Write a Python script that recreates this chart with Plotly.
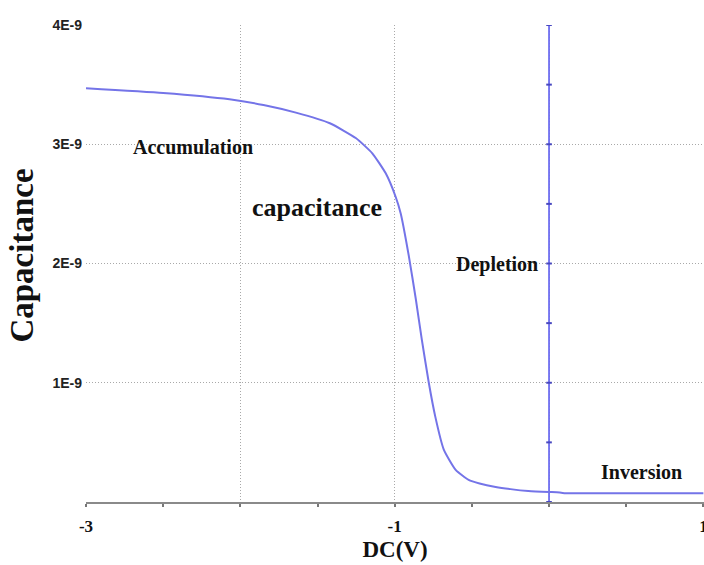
import plotly.graph_objects as go

# C-V curve data (bias in volts, capacitance in farads)
bias_v = [-3.0, -2.5, -2.07, -1.85, -1.64, -1.42, -1.25, -1.145, -1.058, -0.994,
          -0.961, -0.908, -0.863, -0.824, -0.779, -0.737, -0.682, -0.605, -0.521,
          -0.45, -0.346, -0.25, -0.134, 0.0, 0.05, 0.1, 0.5, 1.0]
cap_nf = [3.47, 3.43, 3.377, 3.329, 3.265, 3.176, 3.05, 2.924, 2.756, 2.56,
          2.42, 2.06, 1.70, 1.36, 1.00, 0.716, 0.44, 0.27, 0.185,
          0.155, 0.126, 0.108, 0.092, 0.084, 0.082, 0.074, 0.073, 0.073]
capacitance = [c * 1e-9 for c in cap_nf]

# vertical marker line at 0 V
marker_x = [0, 0, 0, 0, 0, 0, 0, 0, 0]
marker_y_nf = [0, 0.5, 1.0, 1.5, 2.0, 2.5, 3.0, 3.5, 4.0]
marker_y = [v * 1e-9 for v in marker_y_nf]

y_tickvals = [1e-9, 2e-9, 3e-9, 4e-9]
y_ticktext = ["1E-9", "2E-9", "3E-9", "4E-9"]
x_tickvals = [-3, -2, -1, 0, 1]
x_ticktext = ["-3", "", "-1", "", "1"]

LINE = "#7474e8"
SERIF = "Liberation Serif, Times New Roman, serif"
SANS = "Liberation Sans, Arial, sans-serif"
GRID = "#a9a9a9"

fig = go.Figure()
fig.add_trace(go.Scatter(x=marker_x, y=marker_y, mode="lines+markers",
                         line=dict(color="#6e6ef0", width=1.8),
                         marker=dict(symbol="line-ew", size=4,
                                     line=dict(color="#4848c0", width=2)),
                         showlegend=False, hoverinfo="skip"))
fig.add_trace(go.Scatter(x=bias_v, y=capacitance, mode="lines",
                         line=dict(color=LINE, width=2, shape="spline", smoothing=0.5),
                         showlegend=False))

annots = [
    ("Accumulation", -2.307, 2.977e-9, 20),
    ("capacitance", -1.505, 2.47e-9, 26),
    ("Depletion", -0.34, 1.99e-9, 20),
    ("Inversion", 0.599, 0.255e-9, 20),
]
for txt, ax, ay, sz in annots:
    fig.add_annotation(x=ax, y=ay, text=txt, showarrow=False,
                       xanchor="center", yanchor="middle",
                       font=dict(family=SERIF, size=sz, color="#111", weight="bold"))

# y-axis title placed as rotated annotation
fig.add_annotation(xref="paper", yref="paper", x=-0.104, y=0.516,
                   text="Capacitance", textangle=-90, showarrow=False,
                   xanchor="center", yanchor="middle",
                   font=dict(family=SERIF, size=33, color="#111", weight="bold"))

fig.update_layout(
    width=704, height=565,
    margin=dict(l=86, r=0, t=25, b=63, autoexpand=False),
    paper_bgcolor="white", plot_bgcolor="white",
    xaxis=dict(range=[-3, 1.004], tickvals=x_tickvals, ticktext=x_ticktext,
               automargin=False,
               showgrid=True, gridcolor=GRID, griddash="1px,2px", gridwidth=1,
               zeroline=False, showline=True, linecolor="#8a8a8a", linewidth=1.5,
               ticks="outside", ticklen=3, tickcolor="#777", tickwidth=2,
               minor=dict(dtick=0.5, ticks="outside", ticklen=3, tickcolor="#777",
                          tickwidth=2, showgrid=False),
               ticklabelstandoff=5, ticklabeloverflow="allow",
               tickfont=dict(family=SERIF, size=17, color="#111", weight="bold"),
               title=dict(text="DC(V)", standoff=6,
                          font=dict(family=SERIF, size=23, color="#111", weight="bold"))),
    yaxis=dict(range=[0, 4e-9], tickvals=y_tickvals, ticktext=y_ticktext,
               automargin=False,
               showgrid=True, gridcolor=GRID, griddash="1px,2px", gridwidth=1,
               zeroline=False, showline=False, ticks="",
               ticklabelstandoff=3,
               tickfont=dict(family=SANS, size=14, color="#222", weight="bold")),
)

fig.write_html("out.html", config={"displayModeBar": False},
               post_script="document.body.style.margin='0px';")
